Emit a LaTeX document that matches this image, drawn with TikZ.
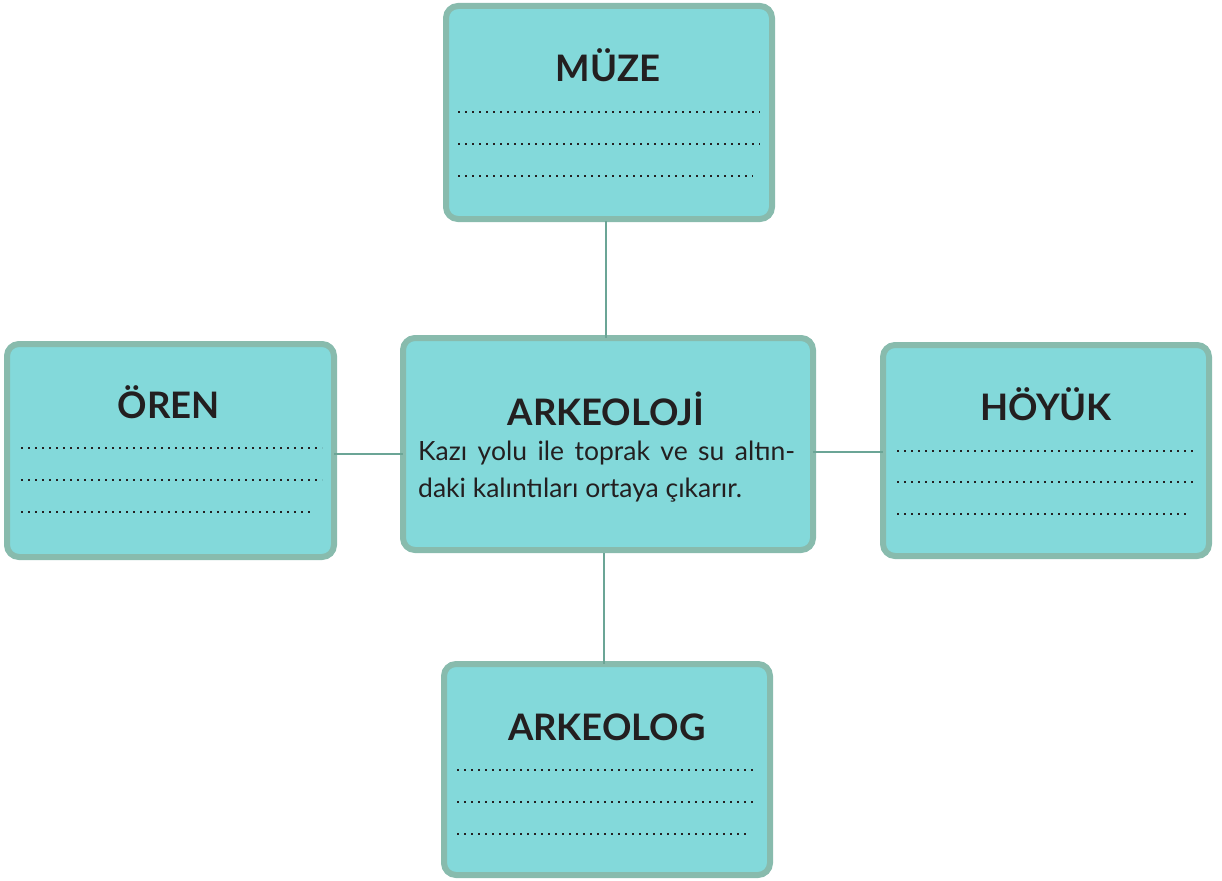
\documentclass[tikz,border=0pt]{standalone}
\usepackage{fontspec}
\setmainfont{Lato}
\definecolor{boxfill}{HTML}{83D9DA}
\definecolor{boxline}{HTML}{88BBAD}
\definecolor{connc}{HTML}{6BA596}
\definecolor{ink}{HTML}{231F20}
\begin{document}
\begin{tikzpicture}[x=1pt,y=-1pt,
  card/.style={draw=boxline, fill=boxfill, line width=6pt, rounded corners=12pt,
    rectangle, inner sep=0pt, outer sep=0pt},
  title/.style={anchor=base, text=ink, font=\fontsize{36.5}{40}\selectfont\bfseries, inner sep=0pt},
  body/.style={anchor=base west, text=ink, font=\fontsize{26.5}{30}\selectfont, inner sep=0pt},
  dotline/.style={draw=ink, line width=2.3pt, dash pattern=on 2pt off 5pt},
  link/.style={draw=connc, line width=2.6pt}]
\useasboundingbox (0,0) rectangle (1222,880);
% connectors
\coordinate (cT) at (606,221);
\coordinate (cB) at (604,553);
\node[card, minimum width=326pt, minimum height=213pt] (muze) at (609,112.5) {};
\node[card, minimum width=327pt, minimum height=213pt] (oren) at (170.5,450.5) {};
\node[card, minimum width=410pt, minimum height=212pt] (ark) at (608,444) {};
\node[card, minimum width=326pt, minimum height=211pt] (hoyuk) at (1046,450.5) {};
\node[card, minimum width=326pt, minimum height=211pt] (arkg) at (607,769.5) {};
\draw[link] (cT) -- (cT |- ark.north);
\draw[link] (cB) -- (cB |- arkg.north);
\draw[link] (oren.east |- 0,454) -- (ark.west |- 0,454);
\draw[link] (ark.east |- 0,452) -- (hoyuk.west |- 0,452);
% titles
\node[title] (tmuze) at (608,82) {MÜZE};
\node[title] (toren) at (169,418) {ÖREN};
\node[title] (thoyuk) at (1046,420) {HÖYÜK};
\node[title] (tark) at (606,425) {ARKEOLOJİ};
\node[title] (tarkg) at (607,740) {ARKEOLOG};
% body
\node[body] (b1) at (418,460) {\makebox[377pt][s]{Kazı yolu ile toprak ve su altın-}};
\node[body] (b2) at (418,497) {daki kalıntıları ortaya çıkarır.};
% dotted answer lines
\foreach \x/\y/\l in {458/112/302, 458/144/302, 458/176/295,
                      21/448/301, 21/480/301, 21/512/292,
                      897/451/300, 897/482/300, 897/514/291,
                      457/770/300, 457/802/300, 457/834/291}
  \draw[dotline] (\x,\y) -- ++(\l,0);
\end{tikzpicture}
\end{document}
